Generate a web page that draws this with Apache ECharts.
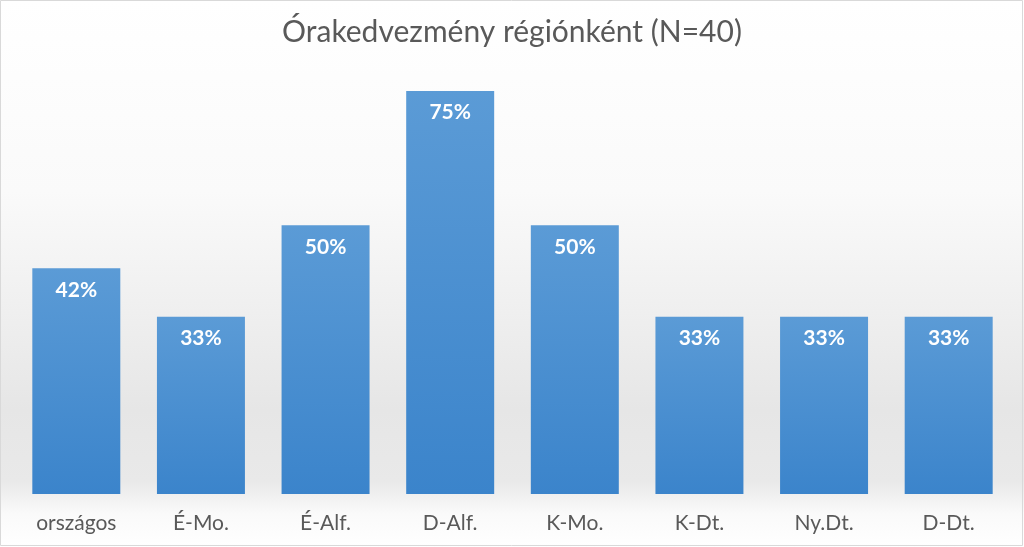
<!DOCTYPE html>
<html><head><meta charset="utf-8">
<script src="https://cdn.jsdelivr.net/npm/echarts@6/dist/echarts.min.js"></script>
<style>html,body{margin:0;padding:0;background:#fff}#c{width:1024px;height:547px}</style>
</head><body><div id="c"></div>
<script>
const titleText = 'Órakedvezmény régiónként (N=40)';
const categories = ['országos','É-Mo.','É-Alf.','D-Alf.','K-Mo.','K-Dt.','Ny.Dt.','D-Dt.'];
const values = [42,33,50,75,50,33,33,33];
const font = 'Lato, "Open Sans", sans-serif';
const chart = echarts.init(document.getElementById('c'));
chart.setOption({
  animation:false,
  backgroundColor:{type:'linear',x:0,y:0,x2:0,y2:1,colorStops:[
    {offset:0,color:'#ffffff'},{offset:0.35,color:'#fafafa'},{offset:0.55,color:'#f0f0f0'},
    {offset:0.75,color:'#e6e6e6'},{offset:0.88,color:'#e9e9e9'},{offset:0.94,color:'#fafafa'},{offset:1,color:'#ffffff'}]},
  title:{text:titleText,left:'center',top:12,textStyle:{fontFamily:font,fontSize:30,fontWeight:'normal',color:'#595959'}},
  grid:{left:14,right:13,top:64,bottom:53},
  xAxis:{type:'category',data:categories,axisLine:{show:false},axisTick:{show:false},
    axisLabel:{fontFamily:font,fontSize:21,color:'#595959',margin:19}},
  yAxis:{type:'value',min:0,max:80,show:false,splitLine:{show:false}},
  graphic:[{type:'rect',shape:{x:0.5,y:0.5,width:1022,height:545},style:{fill:'none',stroke:'#d9d9d9',lineWidth:1},silent:true}],
  series:[{type:'bar',data:values,barWidth:'70.6%',
    itemStyle:{color:{type:'linear',x:0,y:0,x2:0,y2:1,colorStops:[{offset:0,color:'#5b9bd6'},{offset:1,color:'#3b84cb'}]}},
    label:{show:true,position:'insideTop',distance:11,formatter:'{c}%',fontFamily:font,fontSize:21,fontWeight:'bold',color:'#ffffff'}}]
});
</script></body></html>
